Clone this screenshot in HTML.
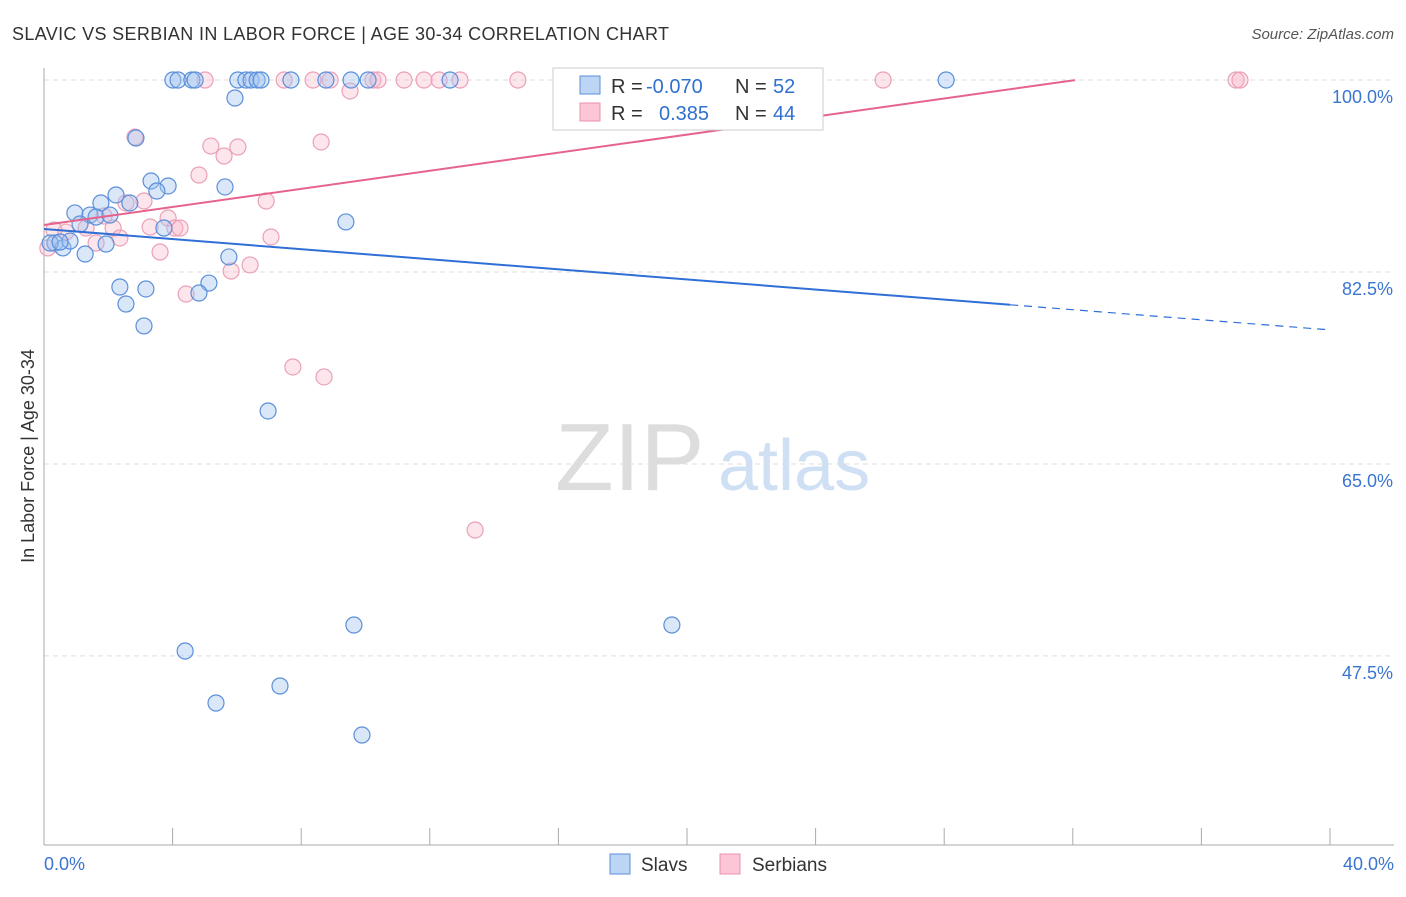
<!DOCTYPE html>
<html><head><meta charset="utf-8"><style>
body{margin:0;background:#fff;font-family:"Liberation Sans",sans-serif;}
svg text{font-family:"Liberation Sans",sans-serif;}
</style></head><body>
<svg id="c" width="1406" height="892">
<text x="12" y="40" font-size="18" fill="#333" textLength="657" lengthAdjust="spacing">SLAVIC VS SERBIAN IN LABOR FORCE | AGE 30-34 CORRELATION CHART</text>
<text x="1394" y="39" font-size="15" fill="#555" font-style="italic" text-anchor="end">Source: ZipAtlas.com</text>
<text x="34" y="456" font-size="18" fill="#333" transform="rotate(-90 34 456)" text-anchor="middle">In Labor Force | Age 30-34</text>
<text x="555" y="490" font-size="96" fill="#ddd" font-family="Liberation Serif">ZIP</text>
<text x="718" y="490" font-size="72" fill="#cfe0f5">atlas</text>
<g id="grid"></g><g id="pts"></g><g id="lines"></g>
<g>
<rect x="553" y="68" width="270" height="62" fill="#fff" stroke="#ccc"/>
<rect x="580" y="76" width="20" height="18" fill="#bdd5f5" stroke="#5b8fd9"/>
<rect x="580" y="103" width="20" height="18" fill="#fcc6d6" stroke="#e890ab"/>
<text x="611" y="93" font-size="20" fill="#333">R = <tspan x="646" fill="#3070d0">-0.070</tspan><tspan x="735">N = </tspan><tspan x="773" fill="#3070d0">52</tspan></text>
<text x="611" y="120" font-size="20" fill="#333">R = <tspan x="659" fill="#3070d0">0.385</tspan><tspan x="735">N = </tspan><tspan x="773" fill="#3070d0">44</tspan></text>
</g>
<g>
<rect x="610" y="854" width="20" height="20" fill="#bdd5f5" stroke="#5b8fd9"/>
<text x="641" y="871" font-size="19" fill="#333">Slavs</text>
<rect x="720" y="854" width="20" height="20" fill="#fcc6d6" stroke="#e890ab"/>
<text x="752" y="871" font-size="19" fill="#333">Serbians</text>
</g>
</svg>
<script>
const slavX=[4.01,4.17,4.60,4.70,6.03,6.28,6.44,6.63,6.75,7.68,8.77,9.55,10.08,12.63,28.06,5.94,2.86,3.33,3.86,3.51,5.63,2.24,1.77,2.67,0.96,1.43,1.62,2.05,1.12,3.73,9.39,0.34,0.59,0.81,1.28,1.93,5.75,2.36,3.17,5.13,4.82,2.55,3.11,6.97,9.64,19.53,4.39,7.34,5.35,9.89,0.19,0.50];
const slavY=[100,100,100,100,100,100,100,100,100,100,100,100,100,100,100,98.36,94.71,90.79,90.34,89.88,90.25,89.52,88.79,88.79,87.88,87.69,87.51,87.69,86.87,86.51,87.06,85.14,84.69,85.32,84.14,85.05,83.87,81.13,80.95,81.49,80.58,79.58,77.58,69.83,50.32,50.32,47.95,44.76,43.21,40.29,85.14,85.23];
const serbX=[5.01,7.47,8.37,8.90,10.23,10.39,11.20,11.82,12.29,12.94,14.74,26.10,37.08,37.20,9.52,2.83,5.19,6.03,5.60,8.62,4.82,3.11,6.91,2.55,3.86,1.87,3.30,4.07,4.23,2.15,0.31,0.68,1.31,2.36,7.06,1.62,3.61,6.41,5.82,4.42,7.74,8.71,13.41,0.12];
const serbY=[100,100,100,100,100,100,100,100,100,100,100,100,100,100,99.0,94.80,93.98,93.89,93.07,94.35,91.34,88.97,88.97,88.79,87.42,87.60,86.60,86.51,86.51,86.51,86.33,86.14,86.51,85.60,85.69,85.14,84.32,83.14,82.59,80.49,73.84,72.93,58.98,84.69];
const yTicks=[100,82.5,65,47.5];
const yTickLabels=["100.0%","82.5%","65.0%","47.5%"];
const slavTrend=[86.42,-0.230,30.05];
const serbTrend=[86.78,0.412,32.07];
const NS="http://www.w3.org/2000/svg";
const X=v=>44+v*32.15, Y=v=>80+(100-v)*10.97;
function mk(t,a,p){const e=document.createElementNS(NS,t);for(const k in a)e.setAttribute(k,a[k]);p.appendChild(e);return e;}
const grid=document.getElementById('grid');
yTicks.forEach((t,i)=>{
 const l=mk('line',{x1:44,x2:1394,y1:Y(t),y2:Y(t),stroke:'#ddd','stroke-dasharray':'5,4'},grid);
 
 
 const tx=mk('text',{x:1393,y:Y(t)+23,'font-size':18,fill:'#3a75d0','text-anchor':'end'},grid);
 tx.textContent=yTickLabels[i];
 
 
});
mk('line',{x1:44,x2:44,y1:68,y2:845,stroke:'#aaa'},grid);
mk('line',{x1:44,x2:1394,y1:845,y2:845,stroke:'#aaa'},grid);
for(let i=1;i<=10;i++){mk('line',{x1:X(i*4),x2:X(i*4),y1:828,y2:845,stroke:'#aaa'},grid);}
const x0=mk('text',{x:44,y:870,'font-size':18,fill:'#3a75d0'},grid);x0.textContent='0.0%';


const x1=mk('text',{x:1394,y:870,'font-size':18,fill:'#3a75d0','text-anchor':'end'},grid);x1.textContent='40.0%';


const pts=document.getElementById('pts');
serbX.forEach((x,i)=>{const c=mk('circle',{cx:X(x),cy:Y(serbY[i]),r:8,fill:'rgba(250,180,200,0.35)',stroke:'#eaa0b8','stroke-width':1.2},pts);
 
 });
slavX.forEach((x,i)=>{const c=mk('circle',{cx:X(x),cy:Y(slavY[i]),r:8,fill:'rgba(160,195,240,0.4)',stroke:'#5b8fd9','stroke-width':1.2},pts);
 
 });
const ln=document.getElementById('lines');
const f=(t,x)=>t[0]+t[1]*x;
let a=mk('line',{x1:X(0),y1:Y(f(slavTrend,0)),x2:X(slavTrend[2]),y2:Y(f(slavTrend,slavTrend[2])),stroke:'#2f6fd6','stroke-width':2},ln);


let b=mk('line',{x1:X(slavTrend[2]),y1:Y(f(slavTrend,slavTrend[2])),x2:X(40),y2:Y(f(slavTrend,40)),stroke:'#2f6fd6','stroke-width':1.2,'stroke-dasharray':'8,6'},ln);


let c=mk('line',{x1:X(0),y1:Y(f(serbTrend,0)),x2:X(serbTrend[2]),y2:Y(f(serbTrend,serbTrend[2])),stroke:'#e5638d','stroke-width':2},ln);


</script>
</body></html>
